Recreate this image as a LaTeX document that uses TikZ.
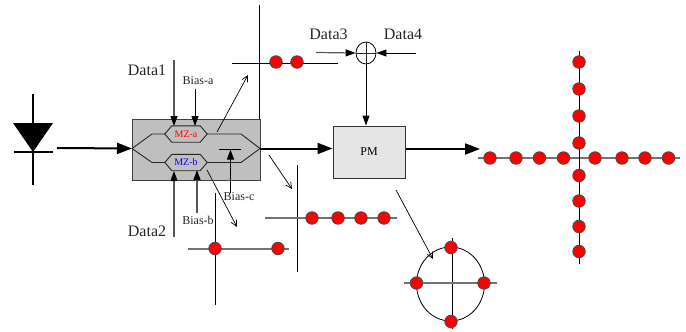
\documentclass[tikz,border=0pt]{standalone}
\usepackage{fontspec}
\setmainfont{Liberation Serif}
\usetikzlibrary{positioning,arrows.meta,shapes.geometric}
\tikzset{axis/.style={line width=1pt},
         axisgray/.style={line width=1.5pt,black!55},
         wg/.style={line width=0.9pt,black!85},
         line/.style={-{Triangle[length=10pt,width=7pt]},line width=1pt},
         linegray/.style={-{Triangle[black,length=10pt,width=7pt]},line width=1.2pt,black!65},
         bigline/.style={-{Triangle[length=15pt,width=11pt]},line width=2pt},
         thinline/.style={-{Straight Barb[length=6pt,width=6pt]},line width=0.7pt},
         dot/.style={circle,draw=black!70,fill=red,line width=0.8pt,minimum size=12.5pt,inner sep=0pt},
         mz/.style={minimum width=42pt,minimum height=16pt,inner sep=0pt,font=\fontsize{10}{10}\selectfont},
         bigfont/.style={font=\fontsize{16}{16}\selectfont,text=black!85},
         smallfont/.style={font=\fontsize{12}{12}\selectfont,text=black!85}
}

\begin{document}
\begin{tikzpicture}[x=1pt,y=1pt,yscale=-1,xscale=1]
\useasboundingbox (0,0) rectangle (686,332);

%Laser diode
\coordinate (ldtop) at (33,94);
\coordinate (ldbot) at (33,185);
\coordinate (ldl) at (14,152);
\coordinate (ldr) at (53,152);
\coordinate (ldout) at (57,148);
\draw [axis,line width=1.5pt] (ldtop) -- (ldbot);
\draw [axis,line width=1.5pt] (ldl) -- (ldr);
\fill (13,123) -- (53,123) -- (33,152) -- cycle;

%Modulator box
\node [draw=black!75,fill=black!25,line width=1pt,minimum width=128pt,minimum height=61pt,inner sep=0pt] (iqbox) at (196,149.5) {};
\node [mz,text=red] (mza) at (186,134) {MZ-a};
\node [mz,text=blue] (mzb) at (186,162.5) {MZ-b};
\foreach \n in {mza,mzb}
  \draw [wg] (\n.west) -- ([xshift=7pt]\n.north west) -- ([xshift=-7pt]\n.north east) -- (\n.east) -- ([xshift=-7pt]\n.south east) -- ([xshift=7pt]\n.south west) -- cycle;
\coordinate (inport) at (132,148.5);
\coordinate (outport) at (260,148.5);
\coordinate (ua) at (152,134);
\coordinate (ub) at (241,134);
\coordinate (la) at (152,162.5);
\coordinate (lb) at (241,162.5);
\draw [wg] (inport) -- (ua) -- (mza.west);
\draw [wg] (mza.east) -- (ub) -- (outport);
\draw [wg] (inport) -- (la) -- (mzb.west);
\draw [wg] (mzb.east) -- (lb) -- (outport);
%Phase bar
\coordinate (pbl) at (219,149);
\coordinate (pbr) at (241,149);
\coordinate (pbm) at (230.5,149.5);
\draw [axis] (pbl) -- (pbr);

%Phase modulator
\node [draw=black!80,fill=black!10,line width=1pt,minimum width=72pt,minimum height=52pt,inner sep=0pt] (pm) at (369,152) {\fontsize{12}{12}\selectfont PM};
\node [ellipse,draw,line width=0.8pt,minimum width=20pt,minimum height=22pt,inner sep=0pt] (adder) at (366,53) {};
\draw [wg] (adder.north) -- (adder.south);
\draw [wg] (adder.west) -- (adder.east);

%Text nodes
\node [bigfont] (data1) at (147,70) {Data1};
\node [bigfont] (data2) at (147,231) {Data2};
\node [bigfont] (data3) at (328.5,34) {Data3};
\node [bigfont] (data4) at (403,34) {Data4};
\node [smallfont] (biasa) at (198,81) {Bias-a};
\node [smallfont] (biasb) at (198,220) {Bias-b};
\node [smallfont] (biasc) at (239,197) {Bias-c};

%Free ends of the drive lines
\coordinate (d1s) at (174,60);
\coordinate (d1e) at (174,126);
\coordinate (bas) at (195,89);
\coordinate (bae) at (195,126);
\coordinate (d2s) at (174,237);
\coordinate (d2e) at (174,171);
\coordinate (bbs) at (197,213);
\coordinate (bbe) at (197,170);
\coordinate (bcs) at (230.5,193);
\coordinate (d3s) at (316,52.5);
\coordinate (d4s) at (416,53);
\draw [linegray] (d1s) -- (d1e);
\draw [line] (bas) -- (bae);
\draw [linegray] (d2s) -- (d2e);
\draw [linegray] (bbs) -- (bbe);
\draw [line] (bcs) -- (pbm);
\draw [linegray] (d3s) -- (adder.west);
\draw [line] (d4s) -- (adder.east);
\draw [line] (adder.south) -- (adder.south |- pm.north);

%Main path
\coordinate (pmout) at (480,149);
\draw [bigline] (ldout) -- (inport);
\draw [bigline] (outport) -- (outport -| pm.west);
\draw [bigline] (pmout -| pm.east) -- (pmout);

%Thin arrows
\coordinate (ta1s) at (217,132);
\coordinate (ta1e) at (248,75);
\coordinate (ta2s) at (207,170);
\coordinate (ta2e) at (237,227);
\coordinate (ta3s) at (269,155);
\coordinate (ta3e) at (292,189);
\coordinate (ta4s) at (396,190);
\coordinate (ta4e) at (433,259);
\draw [thinline] (ta1s) -- (ta1e);
\draw [thinline] (ta2s) -- (ta2e);
\draw [thinline] (ta3s) -- (ta3e);

%Two points
\coordinate (ca1) at (259,5);
\coordinate (ca2) at (259,119);
\coordinate (ca3) at (232,63);
\coordinate (ca4) at (338,63);
\draw [axis] (ca1) -- (ca2);
\draw [axis] (ca3) -- (ca4);
\node [dot] (a1) at (276,62) {};
\node [dot] (a2) at (297,62) {};

%Four points on a line
\coordinate (cb1) at (297,165);
\coordinate (cb2) at (297,272);
\coordinate (cb3) at (265,218);
\coordinate (cb4) at (397,218);
\draw [axis] (cb1) -- (cb2);
\draw [axisgray,line width=1.2pt] (cb3) -- (cb4);
\foreach \i/\px in {1/312,2/338,3/361,4/384}
  \node [dot] (b\i) at (\px,218) {};

%Two points on the other line
\coordinate (cc1) at (215,193);
\coordinate (cc2) at (215,305);
\coordinate (cc3) at (188,249);
\coordinate (cc4) at (289,249);
\draw [axis] (cc1) -- (cc2);
\draw [axisgray,line width=1.2pt] (cc3) -- (cc4);
\node [dot] (c1) at (215,248.5) {};
\node [dot] (c2) at (278,248.5) {};

%Circle of four points
\coordinate (cd1) at (452,238);
\coordinate (cd2) at (452,329);
\coordinate (cd3) at (404,283);
\coordinate (cd4) at (497,283);
\node [ellipse,draw,line width=0.8pt,minimum width=68pt,minimum height=74pt,inner sep=0pt] (ring) at (450.5,284) {};
\draw [axis] (cd1) -- (cd2);
\draw [axisgray] (cd3) -- (cd4);
\draw [thinline] (ta4s) -- (ta4e);
\node [dot] (d1) at (451,247.5) {};
\node [dot] (d2) at (451,321.5) {};
\node [dot] (d3) at (416.5,283) {};
\node [dot] (d4) at (484,283) {};

%Large cross
\coordinate (ce1) at (579,51);
\coordinate (ce2) at (579,264);
\coordinate (ce3) at (478,158);
\coordinate (ce4) at (680,158);
\draw [axisgray] (ce3) -- (ce4);
\draw [axis] (ce1) -- (ce2);
\foreach \i/\px in {1/490,2/516,3/539.5,4/563.5,5/595,6/622,7/645,8/668.5}
  \node [dot] (h\i) at (\px,158) {};
\foreach \i/\py in {1/62,2/89,3/116,4/143,5/175.5,6/201,7/226.5,8/251.5}
  \node [dot] (v\i) at (579,\py) {};

\end{tikzpicture}
\end{document}
